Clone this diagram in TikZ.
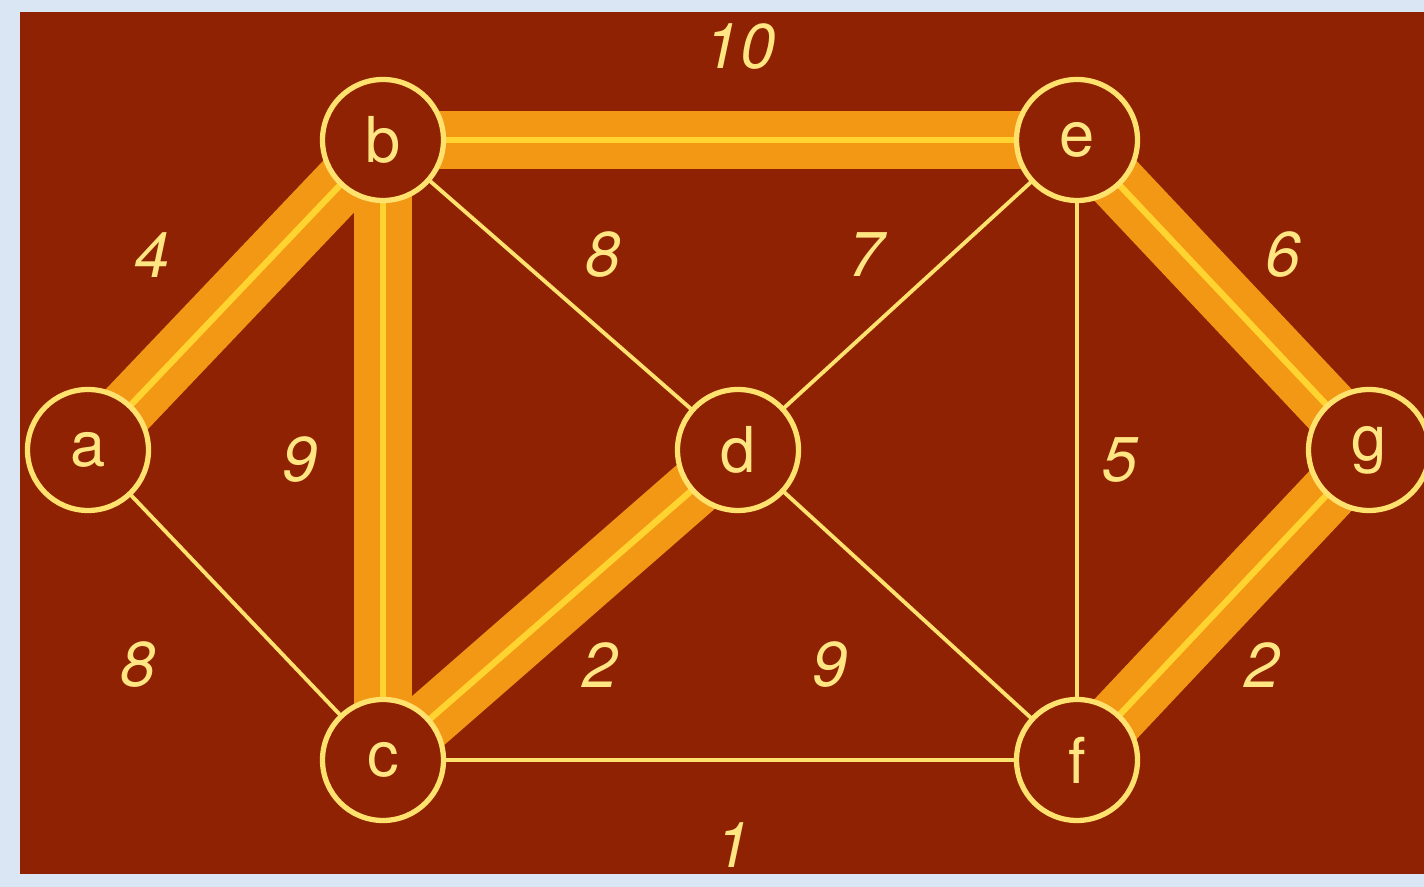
\documentclass[tikz,border=0pt]{standalone}
\usepackage{fontspec}
\setsansfont{TeX Gyre Heros}
\usetikzlibrary{backgrounds}

\definecolor{paleblue}{RGB}{218,230,244}
\definecolor{boardred}{RGB}{142,34,2}
\definecolor{ringyellow}{RGB}{255,226,110}
\definecolor{textyellow}{RGB}{255,230,130}
\definecolor{treeorange}{RGB}{243,152,20}
\definecolor{treeyellow}{RGB}{255,212,48}

\begin{document}
\begin{tikzpicture}[
    vertex/.style={circle, draw=ringyellow, line width=1.5pt, fill=boardred, minimum size=1.21cm, inner sep=0pt, text=textyellow, font=\sffamily\fontsize{18}{18}\selectfont},
    weight/.style={text=textyellow, font=\sffamily\itshape\fontsize{18}{18}\selectfont},
    plain/.style={draw=ringyellow, line width=1.1pt},
    tree/.style={draw=treeorange, line width=0.58cm, postaction={draw=treeyellow, line width=1.8pt}},
]
    \useasboundingbox (0,0) rectangle (14.24,8.87);

    % vertices
    \node[vertex] (a) at (0.88,4.37) {a};
    \node[vertex] (b) at (3.83,7.47) {b};
    \node[vertex] (c) at (3.83,1.27) {c};
    \node[vertex] (d) at (7.38,4.37) {d};
    \node[vertex] (e) at (10.77,7.47) {e};
    \node[vertex] (f) at (10.77,1.27) {f};
    \node[vertex] (g) at (13.69,4.37) {g};

    \begin{scope}[on background layer]
        \fill[paleblue] (0,0) rectangle (14.24,8.87);
        \fill[boardred] (0.20,0.13) rectangle (14.24,8.75);
        % other edges
        \draw[plain] (a.center) -- (c.center);
        \draw[plain] (b.center) -- (d.center);
        \draw[plain] (d.center) -- (e.center);
        \draw[plain] (d.center) -- (f.center);
        \draw[plain] (e.center) -- (f.center);
        \draw[plain] (c.center) -- (f.center);
        % spanning tree
        \draw[tree] (a.center) -- (b.center);
        \draw[tree] (b.center) -- (c.center);
        \draw[tree] (b.center) -- (e.center);
        \draw[tree] (c.center) -- (d.center);
        \draw[tree] (e.center) -- (g.center);
        \draw[tree] (f.center) -- (g.center);
    \end{scope}

    % weights
    \node[weight] (w-be) at (7.40,8.40) {10};
    \node[weight] (w-ab) at (1.52,6.32) {4};
    \node[weight] (w-bd) at (6.03,6.32) {8};
    \node[weight] (w-de) at (8.66,6.32) {7};
    \node[weight] (w-eg) at (12.83,6.32) {6};
    \node[weight] (w-bc) at (3.00,4.27) {9};
    \node[weight] (w-ef) at (11.20,4.27) {5};
    \node[weight] (w-ac) at (1.38,2.22) {8};
    \node[weight] (w-cd) at (6.00,2.22) {2};
    \node[weight] (w-df) at (8.30,2.22) {9};
    \node[weight] (w-fg) at (12.62,2.22) {2};
    \node[weight] (w-cf) at (7.33,0.42) {1};
\end{tikzpicture}
\end{document}
